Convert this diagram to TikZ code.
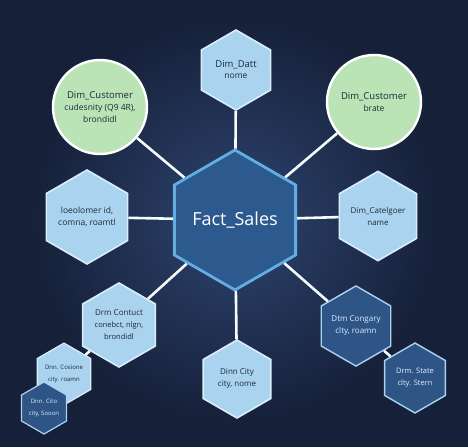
\documentclass[tikz,border=0pt]{standalone}
\usepackage{fontspec}
\setmainfont{Open Sans}
\usepackage{xcolor}
\usepackage{tikz}
\usetikzlibrary{shapes.geometric,positioning,calc}

\definecolor{navy}{HTML}{162039}
\definecolor{glow}{HTML}{2E4470}
\definecolor{hexlight}{HTML}{A9D3EF}
\definecolor{hexedge}{HTML}{D9EEFA}
\definecolor{hexdark}{HTML}{2F5587}
\definecolor{factfill}{HTML}{2C5A8E}
\definecolor{factedge}{HTML}{62AEE2}
\definecolor{mint}{HTML}{BAE3B6}
\definecolor{inktext}{HTML}{1F2A38}

\begin{document}
\begin{tikzpicture}[
    x=1pt, y=-1pt,
    % pointy-top hexagons
    hex/.style={regular polygon, regular polygon sides=6, shape border rotate=30,
      inner sep=0pt, align=center, text=inktext},
    dimhex/.style={hex, fill=hexlight, draw=hexedge, line width=1.6pt},
    darkhex/.style={hex, fill=hexdark, draw=hexlight, line width=1.4pt, text=hexedge},
    dimcirc/.style={circle, inner sep=0pt, align=center, fill=mint, draw=white,
      line width=2.4pt, text=inktext},
    link/.style={draw=white!90!hexlight, line width=2.6pt},
  ]
    % background and glow, kept inside the frame
    \useasboundingbox (0,0) rectangle (468,447);
    \fill[navy] (0,0) rectangle (468,447);
    \shade[inner color=glow, outer color=navy] (235,220) circle (205);

    % fact table
    \node[hex, minimum size=140pt, fill=factfill, draw=factedge, line width=2.8pt,
      text=white, font=\fontsize{18}{20}\selectfont] (fact) at (235,220) {Fact\_Sales};

    % dimensions round the fact table
    \node[dimhex, minimum size=80pt] (datt) at (236,70)
      {\fontsize{9.5}{11}\selectfont Dim\_Datt\\[-1pt]\fontsize{8.5}{10}\selectfont nome};
    \node[dimcirc, minimum size=94pt] (custl) at (100,107)
      {\fontsize{9.5}{11}\selectfont Dim\_Customer\\\fontsize{8.5}{10.5}\selectfont cudesnity (Q9 4R),\\\fontsize{8.5}{10.5}\selectfont brondidl};
    \node[dimcirc, minimum size=94pt] (custr) at (374,102)
      {\fontsize{9.5}{11}\selectfont Dim\_Customer\\\fontsize{8.5}{10.5}\selectfont brate};
    \node[dimhex, minimum size=86pt] (idx) at (87,217)
      {\fontsize{8.5}{10.5}\selectfont loeolomer id,\\\fontsize{8.5}{10.5}\selectfont comna, roamtl};
    \node[dimhex, minimum size=84pt] (catg) at (378,216)
      {\fontsize{8}{10}\selectfont Dim\_Catelgoer\\\fontsize{8}{10}\selectfont name};
    \node[dimhex, minimum size=84pt] (cont) at (119,325)
      {\fontsize{8}{10}\selectfont Drm Contuct\\\fontsize{7.5}{9.5}\selectfont conebct, nlgn,\\\fontsize{7.5}{9.5}\selectfont brondidl};
    \node[dimhex, minimum size=78pt] (city) at (237,379)
      {\fontsize{8}{10}\selectfont Dinn City\\\fontsize{8}{10}\selectfont city, nome};
    \node[darkhex, minimum size=76pt] (cong) at (356,326)
      {\fontsize{8}{10}\selectfont Dtm Congary\\\fontsize{8}{10}\selectfont clty, roamn};
    \node[darkhex, minimum size=70pt] (stat) at (415,378)
      {\fontsize{7.5}{9.5}\selectfont Drm. State\\\fontsize{7.5}{9.5}\selectfont clty. Stern};
    \node[dimhex, minimum size=52pt, line width=1.2pt] (cosi) at (64,374)
      {\fontsize{6}{7.5}\selectfont Dnn. Cosione\\\fontsize{6}{7.5}\selectfont city. roamn};
    \node[darkhex, minimum size=52pt, line width=1.2pt] (cito) at (44,408)
      {\fontsize{6}{7.5}\selectfont Dnn. Cito\\\fontsize{6}{7.5}\selectfont city, Sooon};

    % links
    \draw[link] (fact) -- (datt);
    \draw[link] (fact) -- (custl);
    \draw[link] (fact) -- (custr);
    \draw[link] (fact) -- (idx);
    \draw[link] (fact) -- (catg);
    \draw[link] (fact) -- (cont);
    \draw[link] (fact) -- (city);
    \draw[link] (fact) -- (cong);
    \draw[link] (cong) -- (stat);
    \draw[link] (cont) -- (cosi);
  \end{tikzpicture}
\end{document}
